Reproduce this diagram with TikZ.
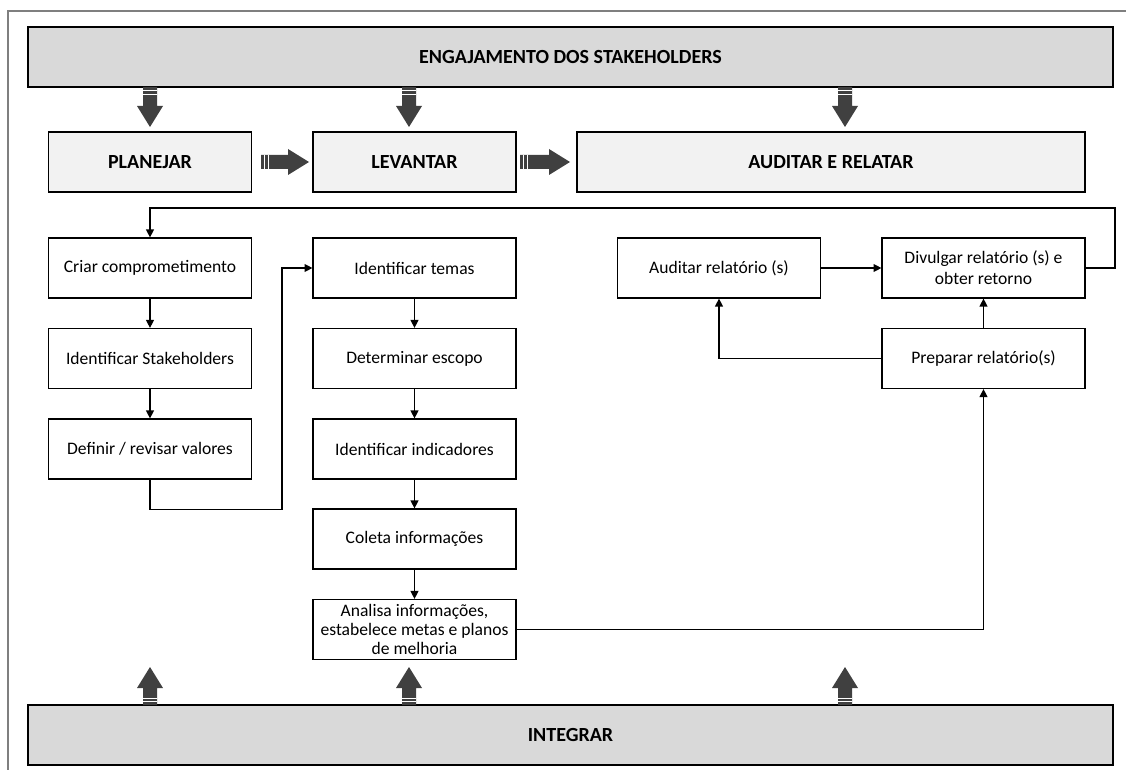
\documentclass[tikz,border=0pt]{standalone}
\usepackage{fontspec}
\setmainfont{Carlito}
\usetikzlibrary{arrows.meta}
\definecolor{bar-color}{HTML}{D9D9D9}
\definecolor{head-color}{HTML}{F2F2F2}
\definecolor{arrow-color}{HTML}{404040}
\definecolor{frame-color}{HTML}{7F7F7F}

\begin{document}
\begin{tikzpicture}[x=0.02cm, y=-0.02cm,
  every node/.style={font=\fontsize{10}{12}\selectfont},
  taskbox/.style={draw, line width=0.7pt, fill=white, minimum width=4.06cm, minimum height=1.2cm, align=center, inner sep=1pt},
  headbox/.style={taskbox, fill=head-color, font=\fontsize{11.4}{13}\selectfont\bfseries},
  barbox/.style={taskbox, fill=bar-color, minimum width=21.7cm, font=\fontsize{11.4}{13}\selectfont\bfseries},
  link/.style={-{Triangle[length=4.5pt,width=4.5pt]}, line width=0.7pt},
  pics/fatarrow/.style={code={
    \fill[arrow-color] (0,-7) -- (#1-21,-7) -- (#1-21,-13) -- (#1,0) -- (#1-21,13) -- (#1-21,7) -- (0,7) -- cycle;
    \draw[white, line width=0.5pt] (3.5,-7) -- (3.5,7) (7,-7) -- (7,7);
  }}
]
\useasboundingbox (0,0) rectangle (1126,770);

% outer frame
\draw[frame-color, line width=1pt] (8,770) -- (8,11) -- (1126,11);

% bars and phases
\node[barbox] (eng) at (570.5,57) {ENGAJAMENTO DOS STAKEHOLDERS};
\node[barbox] (int) at (570.5,735) {INTEGRAR};

\node[headbox] (plan) at (150,162) {PLANEJAR};
\node[headbox] (lev)  at (414.5,162) {LEVANTAR};
\node[headbox, minimum width=10.16cm] (aud) at (831,162) {AUDITAR E RELATAR};

% fat arrows
\pic at (150,87)   [rotate=-90] {fatarrow=40};
\pic at (409,87)   [rotate=-90] {fatarrow=40};
\pic at (845,87)   [rotate=-90] {fatarrow=40};
\pic at (261,162)  {fatarrow=48};
\pic at (520,162)  {fatarrow=50};
\pic at (150,705)  [rotate=90] {fatarrow=38};
\pic at (409,705)  [rotate=90] {fatarrow=38};
\pic at (845,705)  [rotate=90] {fatarrow=38};

% planejar
\node[taskbox] (crit) at (150,268)   {Criar comprometimento};
\node[taskbox] (ids)  at (150,358.5) {Identificar Stakeholders};
\node[taskbox] (def)  at (150,449)   {Definir / revisar valores};

% levantar
\node[taskbox] (idt) at (414.5,268)   {Identificar temas};
\node[taskbox] (esc) at (414.5,358.5) {Determinar escopo};
\node[taskbox] (ind) at (414.5,449)   {Identificar indicadores};
\node[taskbox] (col) at (414.5,539)   {Coleta informações};
\node[taskbox, font=\fontsize{10}{10.6}\selectfont] (ana) at (414.5,629.5) {Analisa informações,\\estabelece metas e planos\\de melhoria};

% auditar e relatar
\node[taskbox] (audr) at (719,268)   {Auditar relatório (s)};
\node[taskbox] (div)  at (983.5,268) {Divulgar relatório (s) e\\obter retorno};
\node[taskbox] (prep) at (983.5,358.5) {Preparar relatório(s)};

\draw[link] (crit) -- (ids);
\draw[link] (ids) -- (def);
\draw[link] (idt) -- (esc);
\draw[link] (esc) -- (ind);
\draw[link] (ind) -- (col);
\draw[link] (col) -- (ana);
\draw[link] (def.south) -- ++(0,30) -| (282,268) -- (idt.west);
\draw[link] (ana.east) -| (prep.south);
\draw[link] (prep.west) -| (audr.south);
\draw[link] (prep) -- (div);
\draw[link] (audr) -- (div);
\draw[link] (div.east) -- (1115,268) |- (150,208) -- (crit.north);

\end{tikzpicture}
\end{document}
